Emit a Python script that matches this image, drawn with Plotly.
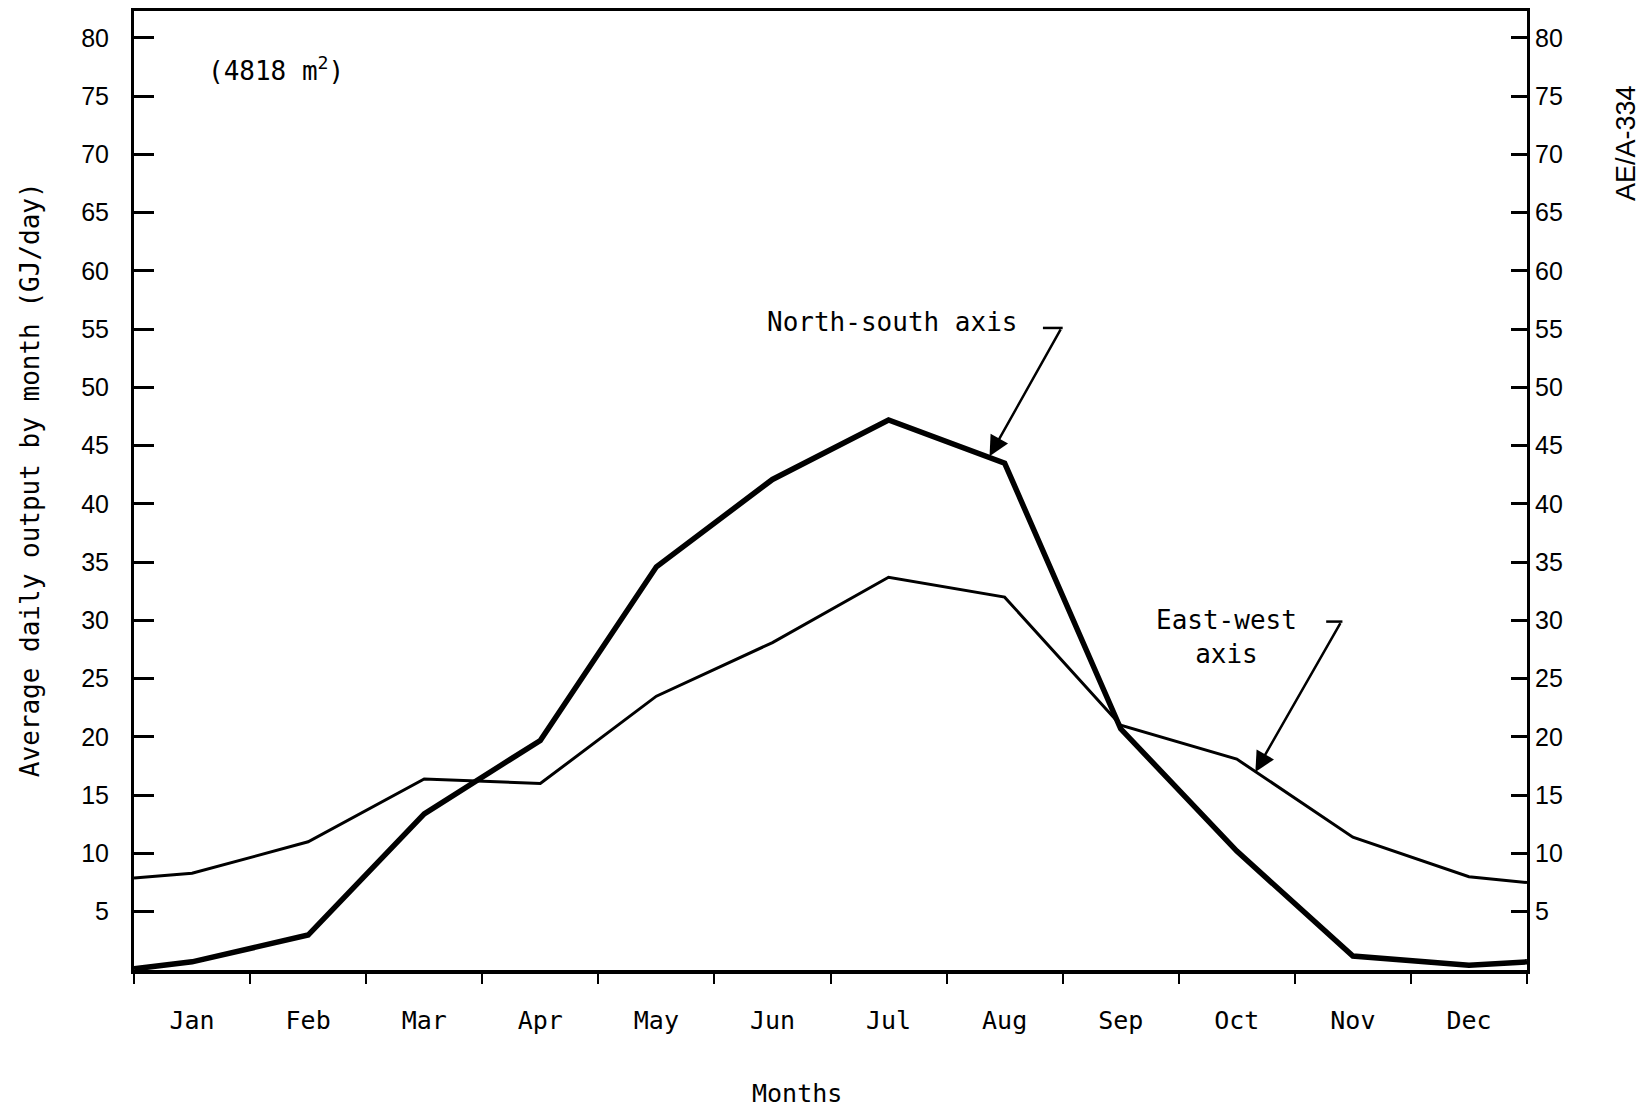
import plotly.graph_objects as go

months = ["Jan", "Feb", "Mar", "Apr", "May", "Jun", "Jul", "Aug", "Sep", "Oct", "Nov", "Dec"]
# North-south axis (heavy line), GJ/day
ns_values = [0.7, 3.0, 13.4, 19.7, 34.6, 42.1, 47.2, 43.5, 20.7, 10.2, 1.2, 0.4]
ns_edges = [0.1, 0.7]   # value where the line meets the left / right axis
# East-west axis (thin line), GJ/day
ew_values = [8.3, 11.0, 16.4, 16.0, 23.5, 28.1, 33.7, 32.0, 21.0, 18.1, 11.4, 8.0]
ew_edges = [7.9, 7.5]
y_ticks = [5, 10, 15, 20, 25, 30, 35, 40, 45, 50, 55, 60, 65, 70, 75, 80]

n = len(months)
centers = [i + 0.5 for i in range(n)]
xs = [0] + centers + [n]

MONO = "DejaVu Sans Mono"
SANS = "Liberation Sans"

fig = go.Figure()
fig.add_trace(go.Scatter(x=xs, y=[ew_edges[0]] + ew_values + [ew_edges[1]],
                         mode="lines", line=dict(color="black", width=3),
                         name="East-west axis", yaxis="y2"))
fig.add_trace(go.Scatter(x=xs, y=[ns_edges[0]] + ns_values + [ns_edges[1]],
                         mode="lines", line=dict(color="black", width=5.5),
                         name="North-south axis"))

yr = [0, 82.3]
fig.update_layout(
    width=1636, height=1101,
    margin=dict(l=126, r=117, t=3, b=139, autoexpand=False),
    paper_bgcolor="white", plot_bgcolor="white",
    showlegend=False,
    xaxis=dict(range=[0, n], tickmode="array", tickvals=centers, ticktext=months,
               ticks="outside", ticklen=25, tickcolor="rgba(0,0,0,0)",
               tickfont=dict(family=MONO, size=25, color="black"),
               showgrid=False, zeroline=False, automargin=False,
               showline=True, linewidth=4, linecolor="black", mirror=True,
               minor=dict(tickmode="linear", tick0=0, dtick=1, ticks="outside",
                          ticklen=10, tickwidth=2, tickcolor="black", showgrid=False)),
    yaxis=dict(range=yr, tickmode="array", tickvals=y_ticks,
               ticks="inside", ticklen=20, tickwidth=3, tickcolor="black",
               ticklabelstandoff=17, automargin=False,
               tickfont=dict(family=SANS, size=25, color="black"),
               showgrid=False, zeroline=False,
               showline=True, linewidth=3, linecolor="black"),
    yaxis2=dict(range=yr, overlaying="y", side="right", tickmode="array", tickvals=y_ticks,
                ticks="inside", ticklen=16, tickwidth=3, tickcolor="black",
                automargin=False,
                tickfont=dict(family=SANS, size=25, color="black"),
                showgrid=False, zeroline=False,
                showline=True, linewidth=3, linecolor="black"),
)

ann = []
ann.append(dict(text="Average daily output by month (GJ/day)", xref="paper", yref="paper",
                x=-0.0745, y=0.511, textangle=-90, showarrow=False,
                font=dict(family=MONO, size=26, color="black"), xanchor="center", yanchor="middle"))
ann.append(dict(text="Months", xref="paper", yref="paper", x=0.476, y=-0.129,
                showarrow=False, font=dict(family=MONO, size=25, color="black"),
                xanchor="center", yanchor="middle"))
ann.append(dict(text="AE/A-334", xref="paper", yref="paper", x=1.0716, y=0.862,
                textangle=-90, showarrow=False, font=dict(family=SANS, size=27, color="black"),
                xanchor="center", yanchor="middle"))
ann.append(dict(text="(4818 m<sup>2</sup>)", xref="x", yref="y", x=1.22, y=77.3,
                showarrow=False, font=dict(family=MONO, size=26, color="black"),
                xanchor="center", yanchor="middle"))
ann.append(dict(text="North-south axis", xref="x", yref="y", x=6.53, y=55.6,
                showarrow=False, font=dict(family=MONO, size=26, color="black"),
                xanchor="center", yanchor="middle"))
ann.append(dict(text="East-west<br>axis", xref="x", yref="y", x=9.41, y=28.6,
                showarrow=False, font=dict(family=MONO, size=26, color="black"),
                xanchor="center", yanchor="middle"))
# arrows (bent leaders: short horizontal stub + diagonal arrow)
ann.append(dict(text="", xref="x", yref="y", axref="x", ayref="y",
                x=7.37, y=44.1, ax=7.99, ay=55.1, showarrow=True,
                arrowhead=2, arrowsize=1.6, arrowwidth=2.5, arrowcolor="black", standoff=0))
ann.append(dict(text="", xref="x", yref="y", axref="x", ayref="y",
                x=9.66, y=17.0, ax=10.40, ay=29.9, showarrow=True,
                arrowhead=2, arrowsize=1.6, arrowwidth=2.5, arrowcolor="black", standoff=0))
fig.update_layout(annotations=ann)
fig.add_shape(type="line", xref="x", yref="y", x0=7.83, y0=55.1, x1=8.0, y1=55.1,
              line=dict(color="black", width=2.5))
fig.add_shape(type="line", xref="x", yref="y", x0=10.27, y0=29.9, x1=10.41, y1=29.9,
              line=dict(color="black", width=2.5))

fig.write_html("out.html")
